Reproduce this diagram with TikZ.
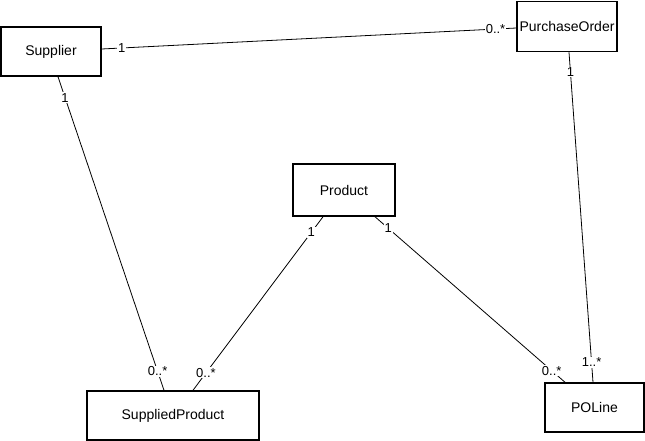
\documentclass[tikz,border=0pt]{standalone}
\usepackage{fontspec}
\setmainfont{Liberation Sans}
\usetikzlibrary{positioning, calc}

\begin{document}
\begin{tikzpicture}[x=1pt, y=-1pt,
        classbox/.style={rectangle, draw=black, line width=1.5pt, inner sep=0pt, font=\fontsize{14}{16}\selectfont},
        assoc/.style={draw=black, line width=0.8pt},
        mult/.style={fill=white, inner sep=0.8pt, font=\fontsize{13}{15}\selectfont}]
        \useasboundingbox (0, 0) rectangle (645, 441);

        % classes
        \node[classbox, minimum width=100pt, minimum height=49pt] (supplier) at (51, 51.5) {Supplier};
        \node[classbox, minimum width=100pt, minimum height=50pt] (purchaseorder) at (567, 26.5) {PurchaseOrder};
        \node[classbox, minimum width=102pt, minimum height=52pt] (product) at (344, 190) {Product};
        \node[classbox, minimum width=172pt, minimum height=49pt] (suppliedproduct) at (173, 415.5) {SuppliedProduct};
        \node[classbox, minimum width=99pt, minimum height=49pt] (poline) at (594.5, 407.5) {POLine};

        % associations
        \draw[assoc] ([yshift=2.5pt]supplier.east) -- ([yshift=-1.5pt]purchaseorder.west)
            node[mult, pos=0.048] {1} node[mult, pos=0.95] {0..*};
        \draw[assoc] ([xshift=7pt]supplier.south) -- ([xshift=-9pt]suppliedproduct.north)
            node[mult, pos=0.067] {1} node[mult, pos=0.94] {0..*};
        \draw[assoc] ([xshift=-21pt]product.south) -- ([xshift=20pt]suppliedproduct.north)
            node[mult, pos=0.09] {1} node[mult, pos=0.9] {0..*};
        \draw[assoc] ([xshift=31pt]product.south) -- ([xshift=-29.5pt]poline.north)
            node[mult, pos=0.07] {1} node[mult, pos=0.93] {0..*};
        \draw[assoc] ([xshift=2pt]purchaseorder.south) -- ([xshift=-1.5pt]poline.north)
            node[mult, pos=0.06] {1} node[mult, pos=0.94] {1..*};

      \end{tikzpicture}
\end{document}
